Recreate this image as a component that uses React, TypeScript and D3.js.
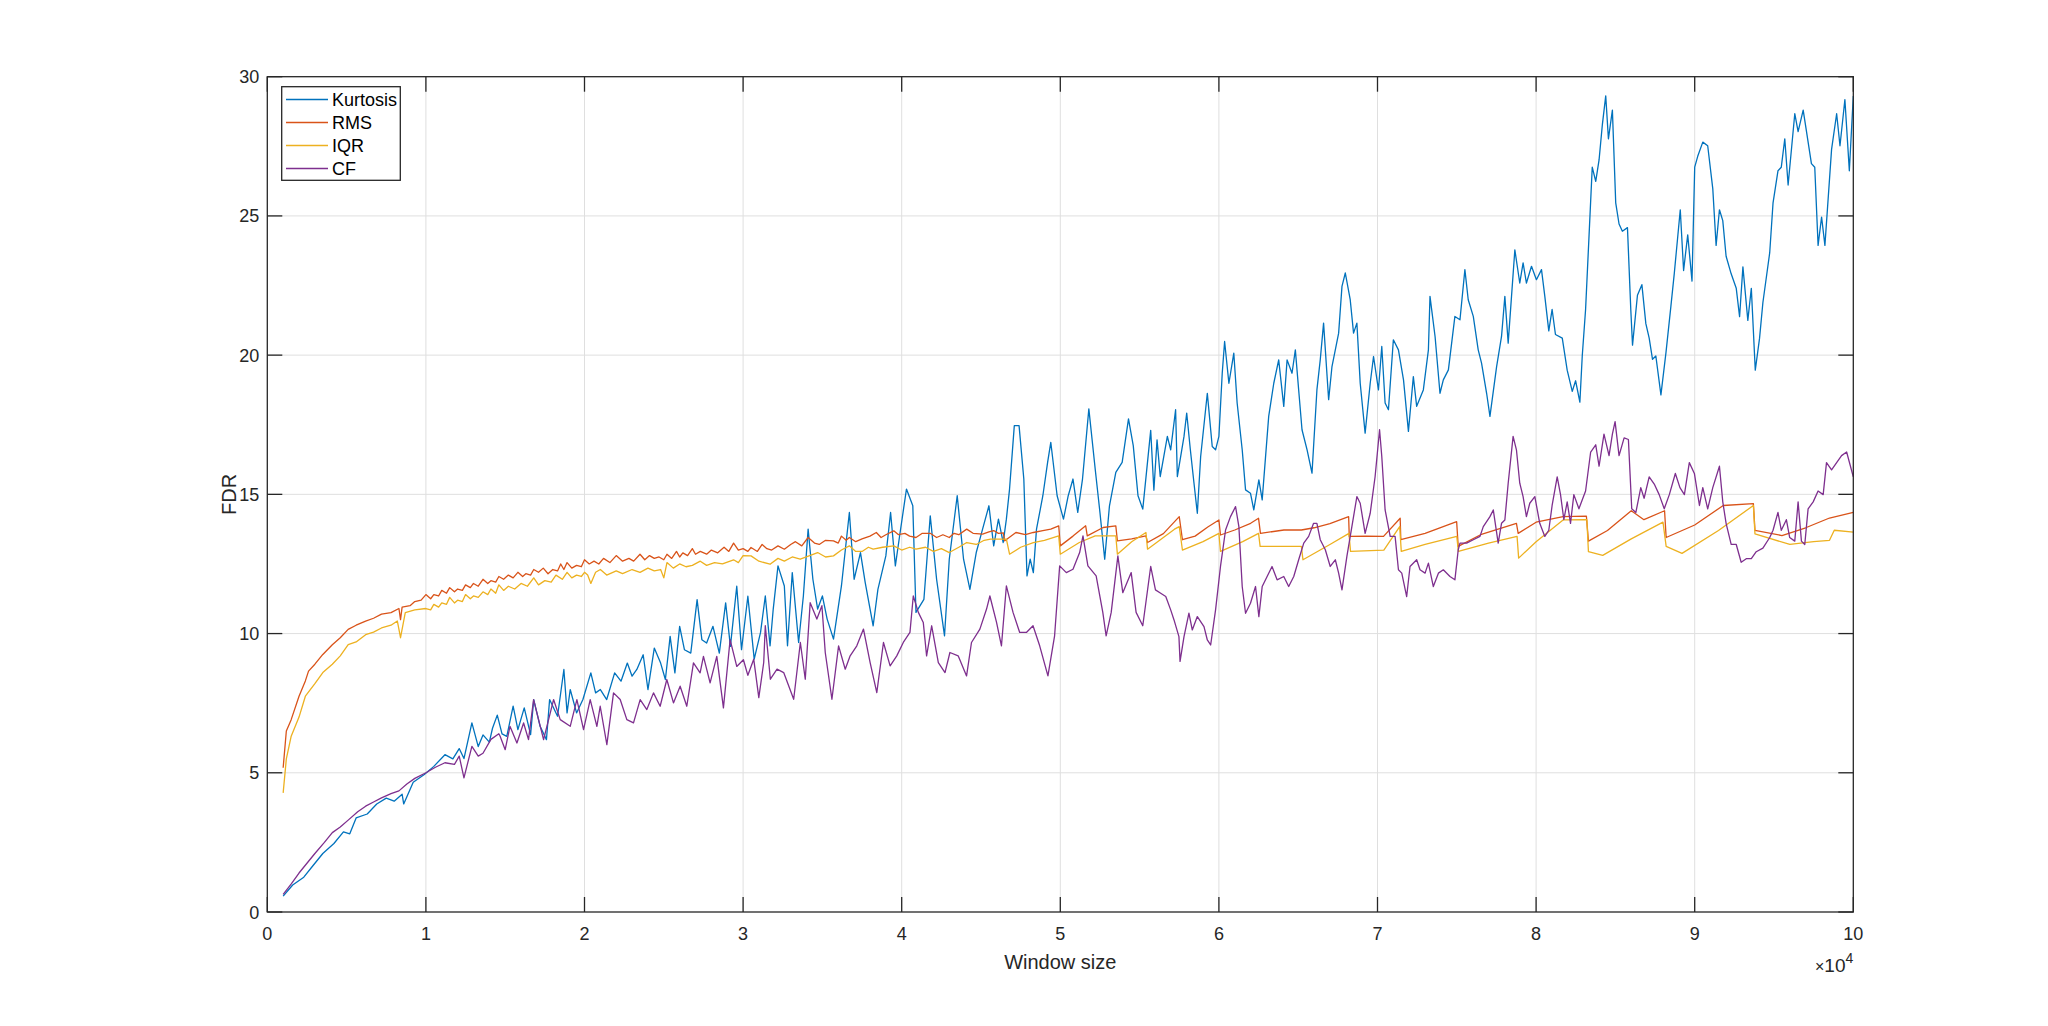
import React, { useEffect, useRef } from "react";
import * as d3 from "d3";

// Window size is in units of 10^4
const legendNames = ["Kurtosis", "RMS", "IQR", "CF"];
const seriesColors = ["#0072BD", "#D95319", "#EDB120", "#7E2F8E"];
const xTicks = [0, 1, 2, 3, 4, 5, 6, 7, 8, 9, 10];
const yTicks = [0, 5, 10, 15, 20, 25, 30];

const kurtosis: [number, number][] = [
  [0.1, 0.57], [0.16, 0.97], [0.23, 1.25], [0.29, 1.68], [0.35, 2.1], [0.42, 2.46], [0.48, 2.88],
  [0.52, 2.81], [0.56, 3.38], [0.63, 3.52], [0.69, 3.88], [0.75, 4.09], [0.8, 3.98], [0.85, 4.23],
  [0.86, 3.88], [0.92, 4.66], [0.99, 4.94], [1.05, 5.23], [1.12, 5.65], [1.17, 5.5], [1.21, 5.87],
  [1.24, 5.51], [1.29, 6.79], [1.33, 5.94], [1.36, 6.36], [1.4, 6.1], [1.42, 6.6], [1.45, 7.07],
  [1.48, 6.4], [1.51, 6.31], [1.55, 7.39], [1.58, 6.55], [1.62, 7.33], [1.66, 6.37], [1.68, 7.63],
  [1.72, 6.67], [1.76, 6.19], [1.78, 7.63], [1.83, 7.03], [1.87, 8.71], [1.89, 7.15], [1.91, 7.99],
  [1.95, 7.15], [1.99, 7.63], [2.04, 8.59], [2.07, 7.87], [2.1, 7.99], [2.14, 7.63], [2.19, 8.59],
  [2.23, 8.29], [2.27, 8.94], [2.3, 8.47], [2.33, 8.71], [2.37, 9.24], [2.4, 7.99], [2.44, 9.48],
  [2.48, 8.94], [2.51, 8.35], [2.54, 9.9], [2.57, 8.59], [2.6, 10.26], [2.63, 9.42], [2.67, 9.3],
  [2.71, 11.22], [2.74, 9.78], [2.77, 9.66], [2.81, 10.26], [2.85, 9.3], [2.89, 11.1], [2.92, 9.54],
  [2.96, 11.7], [2.99, 9.42], [3.03, 11.34], [3.07, 9.08], [3.11, 10.04], [3.14, 11.35], [3.17, 9.56],
  [3.19, 10.88], [3.22, 12.43], [3.26, 11.71], [3.28, 9.56], [3.31, 12.19], [3.35, 9.68], [3.38, 11.35],
  [3.41, 13.75], [3.44, 11.95], [3.47, 10.88], [3.5, 11.35], [3.53, 10.52], [3.57, 9.8], [3.62, 11.71],
  [3.67, 14.35], [3.7, 11.95], [3.74, 12.91], [3.77, 11.83], [3.82, 10.28], [3.85, 11.59], [3.9, 12.79],
  [3.93, 14.35], [3.96, 12.43], [3.99, 13.63], [4.03, 15.19], [4.07, 14.59], [4.09, 10.76], [4.14, 11.23],
  [4.18, 14.23], [4.22, 11.95], [4.27, 9.92], [4.3, 12.67], [4.35, 14.95], [4.39, 12.67], [4.43, 11.59],
  [4.47, 12.91], [4.51, 13.75], [4.55, 14.59], [4.58, 13.15], [4.61, 14.11], [4.64, 13.27], [4.66, 14.11],
  [4.68, 15.19], [4.71, 17.47], [4.74, 17.47], [4.77, 15.55], [4.79, 12.07], [4.81, 12.67], [4.83, 12.19],
  [4.85, 13.75], [4.89, 14.95], [4.92, 16.15], [4.94, 16.87], [4.98, 14.95], [5.02, 14.11], [5.05, 14.95],
  [5.08, 15.55], [5.11, 14.35], [5.14, 15.55], [5.18, 18.07], [5.22, 15.91], [5.25, 14.35], [5.28, 12.67],
  [5.31, 14.59], [5.35, 15.79], [5.39, 16.15], [5.43, 17.71], [5.46, 16.75], [5.49, 14.95], [5.52, 14.47],
  [5.57, 17.3], [5.59, 15.15], [5.61, 16.96], [5.63, 15.64], [5.675, 17.08], [5.696, 16.6], [5.727, 18.04],
  [5.738, 15.64], [5.78, 17.08], [5.797, 17.92], [5.82, 16.6], [5.843, 15.4], [5.864, 14.32], [5.885, 16.36],
  [5.916, 18.04], [5.927, 18.63], [5.958, 16.72], [5.979, 16.6], [6.0, 17.08], [6.021, 19.35], [6.036, 20.49],
  [6.063, 18.99], [6.094, 20.07], [6.115, 18.28], [6.147, 16.6], [6.168, 15.16], [6.199, 15.04], [6.22, 14.44],
  [6.252, 15.52], [6.273, 14.8], [6.314, 17.8], [6.346, 18.99], [6.377, 19.83], [6.409, 18.16], [6.43, 19.83],
  [6.461, 19.35], [6.482, 20.19], [6.503, 18.75], [6.524, 17.32], [6.556, 16.6], [6.587, 15.76], [6.618, 18.75],
  [6.639, 19.83], [6.66, 21.15], [6.692, 18.4], [6.713, 19.59], [6.755, 20.79], [6.776, 22.47], [6.797, 22.95],
  [6.828, 21.99], [6.849, 20.79], [6.87, 21.15], [6.891, 18.99], [6.922, 17.2], [6.954, 18.99], [6.975, 19.95],
  [7.006, 18.75], [7.027, 20.31], [7.048, 18.28], [7.069, 18.04], [7.1, 20.55], [7.132, 20.19], [7.164, 19.11],
  [7.195, 17.26], [7.226, 19.23], [7.247, 18.16], [7.289, 18.75], [7.321, 20.19], [7.331, 22.11], [7.363, 20.67],
  [7.394, 18.63], [7.415, 19.11], [7.447, 19.47], [7.488, 21.39], [7.52, 21.27], [7.551, 23.07], [7.572, 21.99],
  [7.604, 21.39], [7.635, 20.19], [7.656, 19.71], [7.688, 18.63], [7.709, 17.8], [7.751, 19.59], [7.782, 20.67],
  [7.803, 22.11], [7.824, 20.43], [7.845, 22.11], [7.866, 23.78], [7.897, 22.59], [7.918, 23.31], [7.939, 22.59],
  [7.971, 23.19], [8.002, 22.71], [8.034, 23.07], [8.055, 22.11], [8.08, 20.87], [8.101, 21.64], [8.122, 20.74],
  [8.165, 20.61], [8.196, 19.46], [8.228, 18.7], [8.249, 19.08], [8.276, 18.31], [8.291, 19.97], [8.312, 21.64],
  [8.333, 24.19], [8.354, 26.75], [8.376, 26.24], [8.397, 27.01], [8.418, 28.29], [8.439, 29.31], [8.456, 27.77],
  [8.481, 28.8], [8.502, 25.47], [8.523, 24.71], [8.544, 24.45], [8.576, 24.58], [8.597, 21.64], [8.608, 20.36],
  [8.639, 22.15], [8.667, 22.53], [8.692, 21.13], [8.713, 20.61], [8.734, 19.85], [8.755, 19.97], [8.787, 18.57],
  [8.819, 20.1], [8.85, 21.76], [8.871, 22.92], [8.892, 24.19], [8.909, 25.22], [8.93, 23.04], [8.956, 24.32],
  [8.983, 22.66], [9.0, 26.75], [9.019, 27.14], [9.051, 27.65], [9.082, 27.52], [9.114, 25.98], [9.135, 23.94],
  [9.156, 25.22], [9.177, 24.83], [9.198, 23.55], [9.23, 22.92], [9.262, 22.4], [9.283, 21.38], [9.304, 23.17],
  [9.335, 21.25], [9.357, 22.4], [9.382, 19.46], [9.409, 20.61], [9.43, 21.89], [9.473, 23.68], [9.494, 25.47],
  [9.525, 26.62], [9.546, 26.75], [9.568, 27.77], [9.589, 26.11], [9.631, 28.67], [9.652, 28.03], [9.684, 28.8],
  [9.705, 28.03], [9.736, 26.88], [9.757, 26.75], [9.778, 23.94], [9.8, 24.96], [9.821, 23.94], [9.863, 27.39],
  [9.895, 28.67], [9.916, 27.52], [9.947, 29.18], [9.975, 26.62], [10.0, 29.31],
];

const rms: [number, number][] = [
  [0.1, 5.18], [0.12, 6.5], [0.15, 6.9], [0.2, 7.75], [0.24, 8.3], [0.26, 8.65], [0.3, 8.9], [0.35, 9.25],
  [0.41, 9.6], [0.46, 9.85], [0.51, 10.15], [0.56, 10.3], [0.62, 10.45], [0.67, 10.55], [0.72, 10.7],
  [0.78, 10.75], [0.83, 10.9], [0.84, 10.5], [0.85, 10.95], [0.9, 11.0], [0.93, 11.15], [0.97, 11.2],
  [1.0, 11.4], [1.03, 11.25], [1.05, 11.4], [1.08, 11.35], [1.1, 11.55], [1.13, 11.45], [1.15, 11.65],
  [1.18, 11.5], [1.2, 11.6], [1.23, 11.55], [1.25, 11.75], [1.28, 11.65], [1.3, 11.8], [1.33, 11.7],
  [1.36, 11.95], [1.39, 11.8], [1.41, 11.9], [1.44, 11.85], [1.46, 12.05], [1.49, 11.95], [1.52, 12.1],
  [1.55, 12.0], [1.58, 12.2], [1.61, 12.05], [1.63, 12.15], [1.66, 12.1], [1.68, 12.3], [1.71, 12.2],
  [1.74, 12.35], [1.77, 12.15], [1.8, 12.3], [1.83, 12.25], [1.85, 12.5], [1.87, 12.3], [1.89, 12.55],
  [1.92, 12.35], [1.95, 12.45], [1.98, 12.4], [2.0, 12.65], [2.03, 12.5], [2.06, 12.6], [2.09, 12.5],
  [2.12, 12.7], [2.16, 12.55], [2.2, 12.8], [2.24, 12.6], [2.28, 12.7], [2.31, 12.6], [2.35, 12.85],
  [2.38, 12.65], [2.41, 12.8], [2.44, 12.7], [2.47, 12.75], [2.5, 12.65], [2.52, 12.85], [2.55, 12.7],
  [2.58, 12.95], [2.6, 12.75], [2.62, 12.9], [2.65, 12.8], [2.68, 13.05], [2.7, 12.85], [2.73, 12.95],
  [2.77, 12.85], [2.8, 13.0], [2.84, 12.9], [2.88, 13.1], [2.91, 12.95], [2.94, 13.25], [2.97, 13.0],
  [3.0, 13.05], [3.03, 12.95], [3.05, 13.09], [3.09, 12.95], [3.12, 13.2], [3.15, 13.05], [3.18, 13.0],
  [3.22, 13.15], [3.26, 13.03], [3.3, 13.2], [3.33, 13.3], [3.37, 13.15], [3.41, 13.45], [3.45, 13.25],
  [3.48, 13.2], [3.52, 13.35], [3.57, 13.33], [3.6, 13.25], [3.62, 13.5], [3.65, 13.35], [3.67, 13.45],
  [3.71, 13.3], [3.75, 13.4], [3.8, 13.5], [3.84, 13.63], [3.87, 13.45], [3.9, 13.55], [3.95, 13.69],
  [3.98, 13.55], [4.02, 13.6], [4.05, 13.5], [4.09, 13.45], [4.13, 13.6], [4.18, 13.6], [4.22, 13.45],
  [4.26, 13.55], [4.3, 13.45], [4.33, 13.6], [4.36, 13.55], [4.41, 13.75], [4.45, 13.6], [4.51, 13.57],
  [4.55, 13.65], [4.58, 13.7], [4.61, 13.6], [4.64, 13.62], [4.65, 13.33], [4.72, 13.63], [4.78, 13.55],
  [4.83, 13.63], [4.89, 13.7], [4.94, 13.75], [4.99, 13.87], [5.0, 13.15], [5.08, 13.5], [5.16, 13.87],
  [5.17, 13.51], [5.27, 13.81], [5.35, 13.87], [5.36, 13.33], [5.45, 13.4], [5.54, 13.51], [5.55, 13.27],
  [5.65, 13.59], [5.75, 14.2], [5.77, 13.37], [5.85, 13.5], [5.93, 13.83], [6.0, 14.08], [6.01, 13.54],
  [6.1, 13.72], [6.2, 13.96], [6.25, 14.14], [6.262, 13.6], [6.41, 13.72], [6.52, 13.72], [6.6, 13.8],
  [6.7, 13.95], [6.818, 14.2], [6.822, 13.49], [6.93, 13.5], [7.038, 13.49], [7.143, 14.14], [7.147, 13.37],
  [7.3, 13.6], [7.499, 14.02], [7.509, 13.13], [7.65, 13.55], [7.876, 13.96], [7.887, 13.6], [8.0, 14.0],
  [8.17, 14.2], [8.317, 14.22], [8.33, 13.32], [8.45, 13.7], [8.6, 14.41], [8.68, 14.09], [8.81, 14.41],
  [8.82, 13.45], [9.0, 13.9], [9.18, 14.6], [9.37, 14.67], [9.38, 13.71], [9.55, 13.52], [9.7, 13.8],
  [9.85, 14.15], [10.0, 14.35],
];

const iqr: [number, number][] = [
  [0.1, 4.28], [0.12, 5.5], [0.15, 6.3], [0.2, 7.0], [0.24, 7.75], [0.3, 8.2], [0.35, 8.6], [0.41, 8.9],
  [0.46, 9.2], [0.51, 9.6], [0.56, 9.7], [0.62, 9.96], [0.67, 10.05], [0.72, 10.2], [0.78, 10.3],
  [0.82, 10.45], [0.84, 9.85], [0.87, 10.75], [0.93, 10.85], [1.0, 10.9], [1.03, 10.85], [1.05, 11.05],
  [1.08, 10.95], [1.1, 11.1], [1.13, 11.05], [1.15, 11.3], [1.18, 11.1], [1.2, 11.2], [1.23, 11.15],
  [1.25, 11.4], [1.28, 11.25], [1.3, 11.35], [1.33, 11.3], [1.36, 11.5], [1.39, 11.4], [1.41, 11.6],
  [1.44, 11.45], [1.46, 11.75], [1.49, 11.55], [1.52, 11.7], [1.56, 11.6], [1.6, 11.8], [1.64, 11.7],
  [1.68, 12.0], [1.71, 11.75], [1.75, 11.9], [1.79, 11.85], [1.82, 12.1], [1.86, 11.95], [1.89, 12.2],
  [1.92, 12.0], [1.95, 12.1], [1.98, 12.05], [2.0, 12.2], [2.02, 12.1], [2.04, 11.8], [2.07, 12.2],
  [2.1, 12.3], [2.14, 12.1], [2.2, 12.25], [2.24, 12.15], [2.3, 12.3], [2.35, 12.2], [2.4, 12.35],
  [2.44, 12.25], [2.48, 12.3], [2.5, 12.0], [2.52, 12.55], [2.56, 12.35], [2.6, 12.5], [2.64, 12.4],
  [2.68, 12.45], [2.73, 12.6], [2.77, 12.45], [2.82, 12.55], [2.87, 12.5], [2.94, 12.65], [2.97, 12.55],
  [3.0, 12.8], [3.05, 12.79], [3.1, 12.6], [3.17, 12.49], [3.22, 12.7], [3.26, 12.6], [3.31, 12.75],
  [3.36, 12.67], [3.42, 12.8], [3.47, 12.91], [3.52, 12.75], [3.57, 12.79], [3.62, 13.0], [3.67, 13.15],
  [3.71, 12.95], [3.75, 12.95], [3.79, 13.1], [3.82, 13.03], [3.88, 13.1], [3.95, 13.15], [4.0, 13.0],
  [4.05, 13.1], [4.09, 13.03], [4.15, 13.1], [4.2, 12.95], [4.25, 13.05], [4.3, 12.91], [4.36, 13.1],
  [4.41, 13.27], [4.47, 13.2], [4.52, 13.35], [4.56, 13.39], [4.66, 13.39], [4.68, 12.85], [4.75, 13.1],
  [4.83, 13.27], [4.9, 13.35], [4.99, 13.51], [5.0, 12.85], [5.12, 13.27], [5.22, 13.51], [5.35, 13.51],
  [5.36, 12.85], [5.45, 13.3], [5.54, 13.63], [5.55, 13.03], [5.72, 13.75], [5.75, 13.84], [5.77, 13.0],
  [5.9, 13.3], [6.0, 13.6], [6.01, 12.95], [6.15, 13.3], [6.25, 13.6], [6.26, 13.13], [6.52, 13.13],
  [6.53, 12.65], [6.7, 13.2], [6.82, 13.6], [6.83, 12.95], [7.04, 13.0], [7.14, 13.84], [7.15, 12.95],
  [7.3, 13.2], [7.5, 13.49], [7.51, 12.95], [7.7, 13.25], [7.88, 13.49], [7.89, 12.71], [8.0, 13.3],
  [8.17, 14.08], [8.32, 14.09], [8.33, 12.94], [8.42, 12.81], [8.6, 13.4], [8.8, 14.0], [8.82, 13.13],
  [8.92, 12.88], [9.15, 13.7], [9.37, 14.6], [9.38, 13.58], [9.6, 13.2], [9.75, 13.3], [9.85, 13.35],
  [9.88, 13.71], [10.0, 13.64],
];

const cf: [number, number][] = [
  [0.1, 0.63], [0.15, 1.0], [0.2, 1.4], [0.25, 1.75], [0.3, 2.1], [0.36, 2.5], [0.41, 2.85], [0.46, 3.05],
  [0.51, 3.3], [0.57, 3.6], [0.62, 3.8], [0.67, 3.95], [0.72, 4.1], [0.78, 4.25], [0.83, 4.35],
  [0.88, 4.6], [0.93, 4.8], [1.0, 5.0], [1.06, 5.2], [1.12, 5.36], [1.18, 5.3], [1.21, 5.6], [1.24, 4.82],
  [1.29, 5.95], [1.33, 5.6], [1.36, 5.7], [1.41, 6.2], [1.46, 6.4], [1.468, 6.31], [1.5, 5.83],
  [1.53, 6.67], [1.574, 6.07], [1.616, 6.79], [1.647, 6.19], [1.679, 7.63], [1.742, 6.19], [1.805, 7.63],
  [1.847, 6.91], [1.91, 6.67], [1.952, 7.63], [1.994, 6.55], [2.036, 7.63], [2.078, 6.67], [2.099, 7.39],
  [2.141, 6.01], [2.183, 7.87], [2.225, 7.63], [2.267, 6.91], [2.309, 6.79], [2.351, 7.63], [2.393, 7.27],
  [2.435, 7.87], [2.477, 7.39], [2.519, 8.35], [2.561, 7.51], [2.603, 8.11], [2.645, 7.39], [2.687, 8.95],
  [2.729, 8.59], [2.75, 9.18], [2.792, 8.23], [2.834, 9.18], [2.876, 7.33], [2.918, 9.78], [2.96, 8.82],
  [3.002, 9.06], [3.03, 8.5], [3.067, 9.08], [3.099, 7.7], [3.13, 8.96], [3.14, 10.28], [3.172, 8.36],
  [3.214, 8.72], [3.256, 8.6], [3.319, 7.64], [3.361, 9.68], [3.392, 8.36], [3.423, 11.11], [3.465, 10.52],
  [3.497, 11.0], [3.518, 9.32], [3.56, 7.64], [3.602, 9.56], [3.644, 8.72], [3.675, 9.2], [3.717, 9.56],
  [3.759, 10.16], [3.801, 8.96], [3.843, 7.88], [3.885, 9.68], [3.927, 8.84], [3.969, 9.2], [4.01, 9.68],
  [4.052, 10.04], [4.073, 11.35], [4.105, 10.76], [4.136, 10.4], [4.157, 9.2], [4.189, 10.28], [4.231, 8.96],
  [4.273, 8.6], [4.304, 9.32], [4.356, 9.2], [4.409, 8.48], [4.44, 9.68], [4.493, 10.16], [4.535, 10.88],
  [4.556, 11.35], [4.598, 10.4], [4.629, 9.56], [4.66, 11.71], [4.702, 10.76], [4.744, 10.04], [4.786, 10.04],
  [4.828, 10.28], [4.87, 9.56], [4.922, 8.48], [4.964, 9.92], [4.996, 12.43], [5.038, 12.19], [5.08, 12.31],
  [5.122, 12.91], [5.143, 13.51], [5.174, 12.43], [5.226, 12.07], [5.268, 10.76], [5.289, 9.92], [5.321, 10.76],
  [5.363, 12.79], [5.394, 11.47], [5.447, 12.19], [5.478, 10.76], [5.52, 10.28], [5.57, 12.41], [5.6, 11.57],
  [5.633, 11.45], [5.665, 11.33], [5.696, 10.85], [5.717, 10.49], [5.748, 9.89], [5.755, 9.0], [5.78, 9.89],
  [5.811, 10.73], [5.832, 10.13], [5.864, 10.61], [5.906, 10.25], [5.927, 9.77], [5.948, 9.59], [5.979, 10.85],
  [6.01, 12.41], [6.042, 13.72], [6.073, 14.2], [6.105, 14.56], [6.126, 13.84], [6.147, 11.69], [6.168, 10.73],
  [6.199, 11.09], [6.231, 11.69], [6.252, 10.61], [6.273, 11.69], [6.304, 12.05], [6.335, 12.41], [6.367, 11.93],
  [6.409, 12.05], [6.44, 11.69], [6.472, 12.05], [6.503, 12.65], [6.535, 13.25], [6.566, 13.49], [6.597, 13.96],
  [6.618, 13.96], [6.639, 13.37], [6.671, 13.01], [6.702, 12.41], [6.734, 12.65], [6.755, 12.17], [6.776, 11.57],
  [6.807, 12.77], [6.849, 14.2], [6.87, 14.92], [6.891, 14.68], [6.922, 13.6], [6.954, 14.32], [6.985, 15.64],
  [7.013, 17.32], [7.027, 16.36], [7.048, 14.44], [7.08, 13.49], [7.111, 13.49], [7.132, 12.29], [7.153, 12.17],
  [7.184, 11.33], [7.205, 12.41], [7.247, 12.65], [7.268, 12.29], [7.3, 12.17], [7.321, 12.53], [7.352, 11.69],
  [7.384, 12.17], [7.415, 12.29], [7.457, 12.05], [7.488, 11.93], [7.509, 13.01], [7.52, 13.25], [7.562, 13.25],
  [7.604, 13.37], [7.646, 13.49], [7.667, 13.84], [7.709, 14.2], [7.73, 14.44], [7.761, 13.25], [7.782, 13.96],
  [7.803, 14.08], [7.824, 15.4], [7.855, 17.08], [7.876, 16.6], [7.897, 15.4], [7.918, 14.92], [7.939, 14.2],
  [7.96, 14.68], [7.992, 14.92], [8.023, 13.96], [8.055, 13.49], [8.08, 13.71], [8.101, 14.6], [8.133, 15.63],
  [8.154, 14.99], [8.175, 14.09], [8.196, 14.73], [8.217, 13.96], [8.238, 14.99], [8.27, 14.48], [8.312, 15.12],
  [8.344, 16.52], [8.376, 16.78], [8.397, 16.01], [8.428, 17.16], [8.46, 16.39], [8.481, 17.16], [8.498, 17.61],
  [8.523, 16.39], [8.555, 17.03], [8.582, 16.97], [8.603, 14.48], [8.629, 14.35], [8.66, 15.24], [8.681, 14.86],
  [8.713, 15.63], [8.745, 15.37], [8.776, 14.99], [8.808, 14.48], [8.84, 14.99], [8.878, 15.75], [8.907, 15.24],
  [8.935, 14.99], [8.966, 16.14], [8.998, 15.75], [9.03, 14.6], [9.051, 15.24], [9.082, 14.48], [9.114, 15.24],
  [9.156, 16.01], [9.177, 14.73], [9.198, 13.96], [9.23, 13.2], [9.262, 13.2], [9.293, 12.56], [9.325, 12.69],
  [9.357, 12.69], [9.388, 12.94], [9.43, 13.07], [9.473, 13.45], [9.494, 13.71], [9.525, 14.35], [9.546, 13.71],
  [9.578, 14.09], [9.599, 13.45], [9.631, 13.32], [9.652, 14.73], [9.673, 13.32], [9.694, 13.2], [9.715, 14.48],
  [9.747, 14.73], [9.778, 15.12], [9.81, 14.99], [9.831, 16.14], [9.863, 15.88], [9.895, 16.14], [9.926, 16.39],
  [9.958, 16.52], [10.0, 15.63],
];

const allSeries = [kurtosis, rms, iqr, cf];

const App = () => {
  const svgRef = useRef<SVGSVGElement>(null);

  useEffect(() => {
    const svg = d3.select(svgRef.current);
    svg.selectAll("*").remove();

    const left = 267.3;
    const right = 1853.3;
    const top = 76.7;
    const bottom = 912;
    const axisColor = "#262626";
    const font = "'Liberation Sans', Arial, sans-serif";

    const x = d3.scaleLinear().domain([0, 10]).range([left, right]);
    const y = d3.scaleLinear().domain([0, 30]).range([bottom, top]);

    // Grid lines
    const grid = svg.append("g").attr("stroke", "#dfdfdf").attr("stroke-width", 1);
    grid
      .selectAll(".vgrid")
      .data(xTicks.slice(1, -1))
      .enter()
      .append("line")
      .attr("x1", (d) => x(d))
      .attr("x2", (d) => x(d))
      .attr("y1", top)
      .attr("y2", bottom);
    grid
      .selectAll(".hgrid")
      .data(yTicks.slice(1, -1))
      .enter()
      .append("line")
      .attr("x1", left)
      .attr("x2", right)
      .attr("y1", (d) => y(d))
      .attr("y2", (d) => y(d));

    // Lines
    const line = d3
      .line<[number, number]>()
      .x((d) => x(d[0]))
      .y((d) => y(d[1]));

    allSeries.forEach((s, i) => {
      svg
        .append("path")
        .datum(s)
        .attr("d", line)
        .attr("fill", "none")
        .attr("stroke", seriesColors[i])
        .attr("stroke-width", 1.3)
        .attr("stroke-linejoin", "round");
    });

    // Box and ticks (MATLAB style: ticks inside on all four sides)
    const tickLen = 15;
    const axes = svg.append("g").attr("stroke", axisColor).attr("stroke-width", 1.3);
    axes
      .append("rect")
      .attr("x", left)
      .attr("y", top)
      .attr("width", right - left)
      .attr("height", bottom - top)
      .attr("fill", "none");
    xTicks.forEach((t) => {
      axes.append("line").attr("x1", x(t)).attr("x2", x(t)).attr("y1", bottom).attr("y2", bottom - tickLen);
      axes.append("line").attr("x1", x(t)).attr("x2", x(t)).attr("y1", top).attr("y2", top + tickLen);
    });
    yTicks.forEach((t) => {
      axes.append("line").attr("x1", left).attr("x2", left + tickLen).attr("y1", y(t)).attr("y2", y(t));
      axes.append("line").attr("x1", right).attr("x2", right - tickLen).attr("y1", y(t)).attr("y2", y(t));
    });

    // Tick labels
    svg
      .append("g")
      .selectAll("text")
      .data(xTicks)
      .enter()
      .append("text")
      .attr("x", (d) => x(d))
      .attr("y", bottom + 28)
      .attr("text-anchor", "middle")
      .attr("font-family", font)
      .attr("font-size", 18)
      .attr("fill", axisColor)
      .text((d) => d);
    svg
      .append("g")
      .selectAll("text")
      .data(yTicks)
      .enter()
      .append("text")
      .attr("x", left - 8)
      .attr("y", (d) => y(d) + 6.5)
      .attr("text-anchor", "end")
      .attr("font-family", font)
      .attr("font-size", 18)
      .attr("fill", axisColor)
      .text((d) => d);

    // Exponent label
    const expo = svg
      .append("text")
      .attr("x", right)
      .attr("y", 972)
      .attr("text-anchor", "end")
      .attr("font-family", font)
      .attr("font-size", 19)
      .attr("fill", axisColor);
    expo.append("tspan").attr("font-size", 16).text("\u00d7");
    expo.append("tspan").text("10");
    expo.append("tspan").attr("dy", -9).attr("font-size", 14).text("4");

    // Axis labels
    svg
      .append("text")
      .attr("x", (left + right) / 2)
      .attr("y", 969)
      .attr("text-anchor", "middle")
      .attr("font-family", font)
      .attr("font-size", 20)
      .attr("fill", axisColor)
      .text("Window size");
    svg
      .append("text")
      .attr("transform", `translate(236, ${(top + bottom) / 2}) rotate(-90)`)
      .attr("text-anchor", "middle")
      .attr("font-family", font)
      .attr("font-size", 20)
      .attr("fill", axisColor)
      .text("FDR");

    // Legend
    const legend = svg.append("g");
    legend
      .append("rect")
      .attr("x", 281.7)
      .attr("y", 86.7)
      .attr("width", 118.6)
      .attr("height", 93.6)
      .attr("fill", "white")
      .attr("stroke", axisColor)
      .attr("stroke-width", 1.3);
    legendNames.forEach((name, i) => {
      const ly = 99.5 + i * 23;
      legend
        .append("line")
        .attr("x1", 286)
        .attr("x2", 328)
        .attr("y1", ly)
        .attr("y2", ly)
        .attr("stroke", seriesColors[i])
        .attr("stroke-width", 1.3);
      legend
        .append("text")
        .attr("x", 332)
        .attr("y", ly + 6.5)
        .attr("font-family", font)
        .attr("font-size", 18)
        .attr("fill", "#000")
        .text(name);
    });
  }, []);

  return (
    <svg
      ref={svgRef}
      width={2048}
      height={1026}
      style={{ position: "absolute", left: 0, top: 0, display: "block", background: "white" }}
    />
  );
};

export default App;
